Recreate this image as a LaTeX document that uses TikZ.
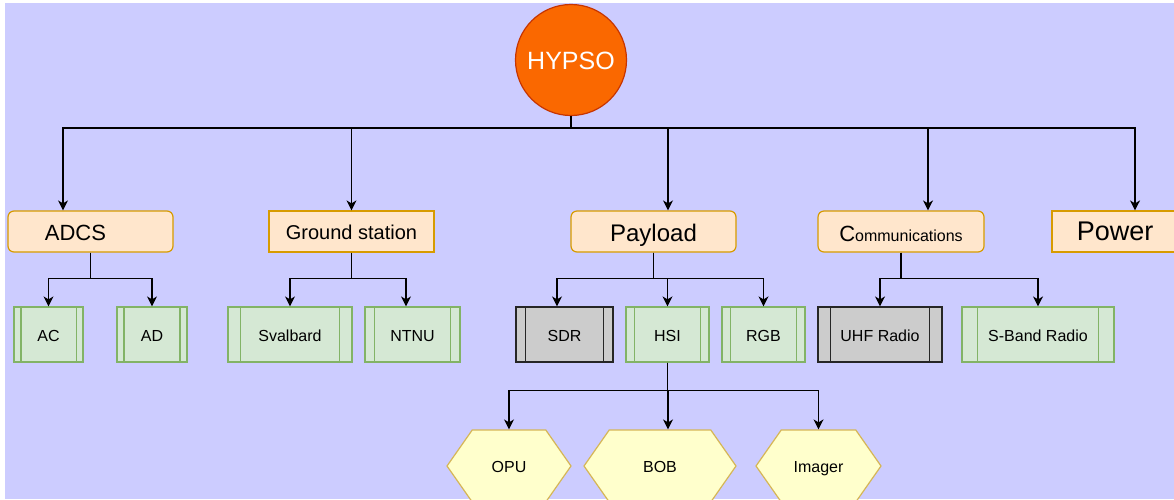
\documentclass[tikz,border=0pt]{standalone}
\usepackage{fontspec}
\setmainfont{Liberation Sans}
\usetikzlibrary{arrows.meta,calc,shapes.symbols}
\definecolor{bgblue}{HTML}{CCCCFF}
\definecolor{hypsofill}{HTML}{FA6800}
\definecolor{hypsoline}{HTML}{C73500}
\definecolor{mainfill}{HTML}{FFE6CC}
\definecolor{mainline}{HTML}{D79B00}
\definecolor{procfill}{HTML}{D5E8D4}
\definecolor{procline}{HTML}{82B366}
\definecolor{hexfill}{HTML}{FFFFCC}
\definecolor{hexline}{HTML}{D6B656}
\begin{document}
\begin{tikzpicture}[x=1pt, y=-1pt,
  mainbox/.style={draw=mainline, fill=mainfill, line width=1.2pt,
    minimum height=41pt, inner sep=0pt, text depth=0pt},
  proc/.style={draw=#1, line width=1.2pt, minimum height=55pt, inner sep=0pt,
    text height=13.5pt, text depth=0pt, font=\fontsize{16}{19}\selectfont,
    path picture={\draw[#1, line width=1.2pt]
      ($(path picture bounding box.north west)!0.1!(path picture bounding box.north east)$) --
      ($(path picture bounding box.south west)!0.1!(path picture bounding box.south east)$)
      ($(path picture bounding box.north west)!0.9!(path picture bounding box.north east)$) --
      ($(path picture bounding box.south west)!0.9!(path picture bounding box.south east)$);}},
  greenproc/.style={proc=procline, fill=procfill},
  grayproc/.style={proc=black!85, fill=black!20},
  hexnode/.style={shape=signal, signal to=west and east, signal pointer angle=110,
    draw=hexline, fill=hexfill, line width=1.2pt, minimum height=72pt, inner sep=0pt,
    text height=12.5pt, text depth=0pt, font=\fontsize{16}{19}\selectfont},
  conn/.style={line width=1.3pt},
  arr/.style={conn, -{Stealth[length=10pt, width=10pt, inset=3pt]}}]
  \useasboundingbox (0,0) rectangle (1174,499);
  % Background
  \fill[bgblue] (5,3) rectangle (1174,499);
  % Top node
  \node[circle, draw=hypsoline, fill=hypsofill, line width=1.2pt, minimum size=111pt,
    inner sep=0pt, text=white, text height=19pt, text depth=0pt,
    font=\fontsize{25}{30}\selectfont] (hypso) at (571,60) {HYPSO};
  % Subsystems
  \node[mainbox, rounded corners=6pt, minimum width=165pt, text height=17pt,
    font=\fontsize{22}{26}\selectfont]
    (adcs) at (90.5,231.5) {ADCS\rule{30pt}{0pt}};
  \node[mainbox, minimum width=165pt, text height=15pt, font=\fontsize{20}{24}\selectfont]
    (ground) at (351.5,231.5) {Ground station};
  \node[mainbox, rounded corners=6pt, minimum width=165pt, text height=19pt,
    font=\fontsize{24}{28}\selectfont]
    (payload) at (653.5,231.5) {Payload};
  \node[mainbox, rounded corners=6pt, minimum width=166pt, text height=20pt,
    font=\fontsize{16}{19}\selectfont]
    (comms) at (901,231.5) {{\fontsize{22}{26}\selectfont C}ommunications};
  \node[mainbox, minimum width=126pt, text height=18.5pt, font=\fontsize{27}{32}\selectfont]
    (power) at (1115,231.5) {Power};
  % Components
  \foreach \nm/\x/\w/\txt in {ac/48.5/69/AC, ad/152/70/AD, sval/290/124/Svalbard,
      ntnu/412.5/95/NTNU, hsi/667.5/83/HSI, rgb/763.5/83/RGB, sband/1038/152/S-Band Radio}
    \node[greenproc, minimum width=\w pt] (\nm) at (\x,334.5) {\txt};
  \node[grayproc, minimum width=97pt] (sdr) at (564.5,334.5) {SDR};
  \node[grayproc, minimum width=124pt] (uhf) at (880,334.5) {UHF Radio};
  % HSI parts
  \node[hexnode, minimum width=124pt] (opu) at (509,466) {OPU};
  \node[hexnode, minimum width=152pt] (bob) at (660,466) {BOB};
  \node[hexnode, minimum width=125pt] (imager) at (818.5,466) {Imager};
  % Bus from HYPSO
  \coordinate (bus) at (571,128);
  \draw[conn] (hypso.south) -- (bus);
  \foreach \n/\dx in {adcs/-27.5, ground/0, payload/14.5, comms/27, power/20}
    \draw[arr] (bus) -| ([xshift=\dx pt]\n.north);
  % Branches to components
  \foreach \p/\c/\dx in {adcs/ac/0, adcs/ad/0, ground/sval/0, ground/ntnu/-6.5,
      payload/sdr/-7.5, payload/hsi/0, payload/rgb/0, comms/uhf/0, comms/sband/0}
    \draw[arr] (\p.south) -- ++(0,26) -| ([xshift=\dx pt]\c.north);
  \foreach \c/\dx in {opu/0, bob/8, imager/0}
    \draw[arr] (hsi.south) -- ++(0,28) -| ([xshift=\dx pt]\c.north);
\end{tikzpicture}
\end{document}
